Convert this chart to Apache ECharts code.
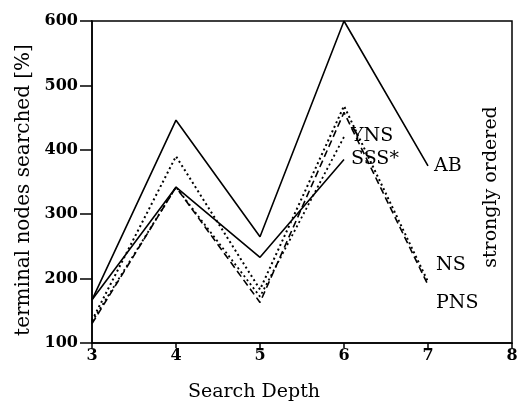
<!DOCTYPE html>
<html>
<head>
<meta charset="utf-8">
<script src="https://cdn.jsdelivr.net/npm/echarts@6/dist/echarts.min.js"></script>
<style>html,body{margin:0;padding:0;background:#fff}#c{width:530px;height:410px}</style>
</head>
<body>
<div id="c"></div>
<script>
const depths = [3, 4, 5, 6, 7];
const abValues = [167, 446, 265, 600, 375];
const sssValues = [167, 342, 233, 385];
const ynsValues = [133, 342, 172, 420];
const nsValues = [135, 390, 183, 468, 195];
const pnsValues = [130, 342, 163, 458, 190];
const yTicks = [100, 200, 300, 400, 500, 600];
const xTicks = [3, 4, 5, 6, 7, 8];

const F = 'DejaVu Serif';
function pts(vals) { return vals.map((v, i) => [depths[i], v]); }
function lbl(text, off) {
  return { show: true, formatter: text, color: '#000', fontFamily: F, fontSize: 19, offset: off, distance: 4 };
}
const chart = echarts.init(document.getElementById('c'));
chart.setOption({
  animation: false,
  backgroundColor: '#fff',
  grid: { left: 92, right: 18, top: 21, bottom: 67, show: true, borderColor: '#000', borderWidth: 1.5 },
  xAxis: {
    type: 'value', min: xTicks[0], max: xTicks[xTicks.length - 1], interval: 1,
    name: 'Search Depth', nameLocation: 'middle', nameGap: 40,
    nameTextStyle: { fontFamily: F, fontSize: 19, color: '#000', padding: [0, 96, 0, 0] },
    axisLine: { show: true, lineStyle: { color: '#000', width: 1.5 } },
    axisTick: { show: true, length: 5, lineStyle: { color: '#000', width: 1.5 } },
    axisLabel: { color: '#000', fontFamily: F, fontSize: 16, fontWeight: 'bold', margin: 5 },
    splitLine: { show: false }
  },
  yAxis: [{
    type: 'value', min: yTicks[0], max: yTicks[yTicks.length - 1], interval: 100,
    name: 'terminal nodes searched [%]', nameLocation: 'middle', nameGap: 52,
    nameTextStyle: { fontFamily: F, fontSize: 20, color: '#000', padding: [0, 16, 0, 0] },
    axisLine: { show: true, lineStyle: { color: '#000', width: 1.5 } },
    axisTick: { show: true, length: 12, lineStyle: { color: '#000', width: 1.5 } },
    axisLabel: { color: '#000', fontFamily: F, fontSize: 16, fontWeight: 'bold', margin: 14 },
    splitLine: { show: false }
  }, {
    type: 'value', position: 'right', min: 100, max: 600,
    name: 'strongly ordered', nameLocation: 'middle', nameGap: -30,
    nameTextStyle: { fontFamily: F, fontSize: 19, color: '#000', padding: [0, 10, 0, 0] },
    axisLine: { show: false }, axisTick: { show: false }, axisLabel: { show: false },
    splitLine: { show: false }
  }],
  series: [
    { name: 'AB', type: 'line', data: pts(abValues), symbol: 'none',
      lineStyle: { color: '#000', width: 1.6 }, endLabel: lbl('AB', [2, 0]) },
    { name: 'SSS*', type: 'line', data: pts(sssValues), symbol: 'none',
      lineStyle: { color: '#000', width: 1.6 }, endLabel: lbl('SSS*', [3, 0]) },
    { name: 'YNS', type: 'line', data: pts(ynsValues), symbol: 'none',
      lineStyle: { color: '#000', width: 1.8, type: [2, 3] }, endLabel: lbl('YNS', [3, -1]) },
    { name: 'NS', type: 'line', data: pts(nsValues), symbol: 'none',
      lineStyle: { color: '#000', width: 2, type: [2, 3] }, endLabel: lbl('NS', [4, -17]) },
    { name: 'PNS', type: 'line', data: pts(pnsValues), symbol: 'none',
      lineStyle: { color: '#000', width: 1.6, type: [7, 4] }, endLabel: lbl('PNS', [4, 18]) }
  ]
});
</script>
</body>
</html>
